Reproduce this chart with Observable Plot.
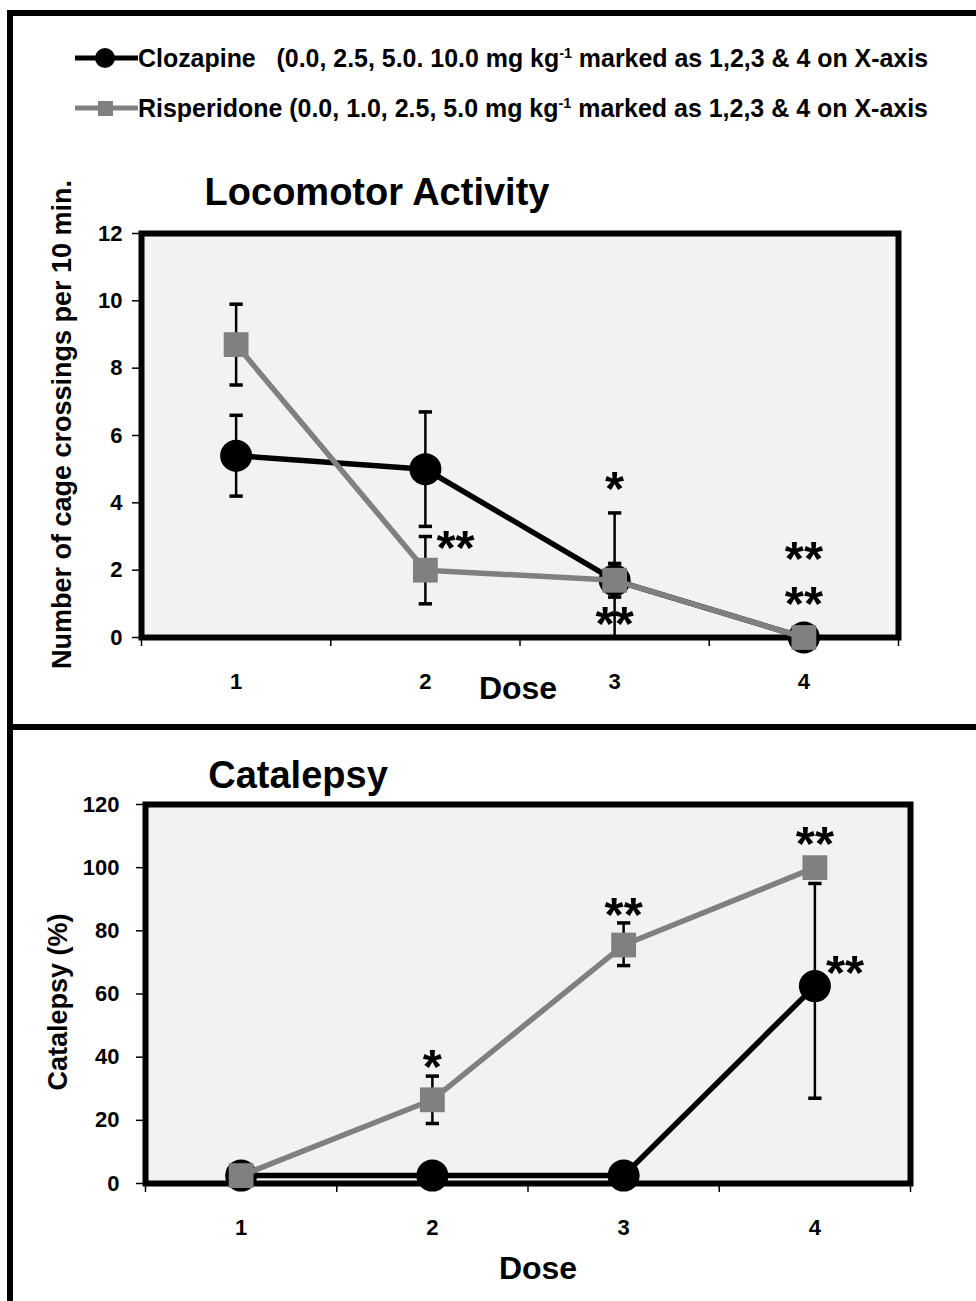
<!DOCTYPE html>
<html><head><meta charset="utf-8">
<script src="https://cdn.jsdelivr.net/npm/d3@7"></script>
<script src="https://cdn.jsdelivr.net/npm/@observablehq/plot@0.6"></script>
<style>
body{margin:0;background:#fff;}
#page{position:relative;width:976px;height:1301px;overflow:hidden;font-family:"Liberation Sans",Arial,sans-serif;}
#border{position:absolute;left:7px;top:10px;width:1100px;height:1400px;border:6px solid #000;box-sizing:border-box;}
#divider{position:absolute;left:7px;top:724px;width:1100px;height:6px;background:#000;}
.legend{position:absolute;left:75px;height:36px;display:flex;align-items:center;font-family:"Liberation Sans",Arial,sans-serif;font-size:26px;font-weight:bold;white-space:nowrap;}
.legend span{display:inline-block;transform-origin:0 50%;}
.legend sup{font-size:15px;vertical-align:9px;line-height:0;}
.title{position:absolute;font-weight:bold;font-size:38px;transform:translate(-50%,-50%);white-space:nowrap;}
.panel{position:absolute;left:0;}
</style></head>
<body>
<div id="page">
  <div id="border"></div>
  <div id="divider"></div>
  <div class="legend" style="top:40px">
    <svg width="63" height="30"><line x1="0" y1="15" x2="63" y2="15" stroke="#000" stroke-width="5"/><circle cx="30" cy="15" r="10" fill="#000"/></svg>
    <span class="lt">Clozapine&nbsp;&nbsp;&nbsp;(0.0, 2.5, 5.0. 10.0 mg kg<sup>-1</sup> marked as 1,2,3 &amp; 4 on X-axis</span>
  </div>
  <div class="legend" style="top:90px">
    <svg width="63" height="30"><line x1="0" y1="15" x2="63" y2="15" stroke="#808080" stroke-width="5"/><rect x="23" y="8" width="15" height="15" fill="#808080"/></svg>
    <span class="lt">Risperidone (0.0, 1.0, 2.5, 5.0 mg kg<sup>-1</sup> marked as 1,2,3 &amp; 4 on X-axis</span>
  </div>
  <div class="title" style="left:377px;top:192px">Locomotor Activity</div>
  <div class="title" style="left:298px;top:775px">Catalepsy</div>
  <div class="panel" id="top" style="top:140px"></div>
  <div class="panel" id="bottom" style="top:730px"></div>
</div>
<script>
// ---- data ----
const doses = [1, 2, 3, 4];
const doseBounds = [0.5, 1.5, 2.5, 3.5, 4.5];
const series = ["Clozapine", "Risperidone"];

// Locomotor activity (cage crossings per 10 min)
const locoClozapine   = [5.4, 5.0, 1.7, 0];
const locoClozapineLo = [4.2, 3.3, 0.0, 0];
const locoClozapineHi = [6.6, 6.7, 3.7, 0];
const locoRisperidone   = [8.7, 2.0, 1.7, 0];
const locoRisperidoneLo = [7.5, 1.0, 1.2, 0];
const locoRisperidoneHi = [9.9, 3.0, 2.2, 0];
const locoTicks = [0, 2, 4, 6, 8, 10, 12];
const locoStars = [
  {dose: 2, y: 2.9, text: "**", side: "right"},
  {dose: 3, y: 4.6, text: "*", side: "center"},
  {dose: 3, y: 0.6, text: "**", side: "center"},
  {dose: 4, y: 1.85, text: "**\n**", side: "center"}
];

// Catalepsy (%)
const cataClozapine   = [2.5, 2.5, 2.5, 62.5];
const cataClozapineLo = [2.5, 2.5, 2.5, 27];
const cataClozapineHi = [2.5, 2.5, 2.5, 95];
const cataRisperidone   = [2.5, 26.5, 75.5, 100];
const cataRisperidoneLo = [2.5, 19, 69, 100];
const cataRisperidoneHi = [2.5, 34, 82.5, 100];
const cataTicks = [0, 20, 40, 60, 80, 100, 120];
const cataStars = [
  {dose: 2, y: 39, text: "*", side: "center"},
  {dose: 3, y: 87, text: "**", side: "center"},
  {dose: 4, y: 109.5, text: "**", side: "center"},
  {dose: 4, y: 69, text: "**", side: "right"}
];

// ---- helpers ----
function rows(vals, lo, hi, name) {
  return doses.map((d, i) => ({series: name, dose: d, value: vals[i], lo: lo[i], hi: hi[i]}));
}
const capSymbol = {draw(ctx, size) { const w = Math.sqrt(size) / 2; ctx.moveTo(-w, 0); ctx.lineTo(w, 0); }};

function panel(opts) {
  const {cloz, risp, yDomain, yTicks, stars, yLabel, margins, height, yLabelDx, yLabelDy, doseDy, doseDx, tickPadding} = opts;
  const all = cloz.concat(risp);
  const bars = all.filter(d => d.hi > d.lo);
  const caps = bars.flatMap(d => [d.lo, d.hi].filter(v => v > 0).map(v => ({dose: d.dose, v})));
  const bold = {fontWeight: "bold", fill: "black", fontFamily: "Liberation Sans, Arial, sans-serif"};
  return Plot.plot({
    width: 976, height,
    marginLeft: margins[0], marginRight: margins[1], marginTop: margins[2], marginBottom: margins[3],
    style: {background: "transparent", overflow: "visible"},
    x: {type: "linear", domain: [0.5, 4.5]},
    y: {domain: yDomain},
    marks: [
      Plot.frame({fill: "#f2f2f2"}),
      Plot.axisY({ticks: yTicks, tickSize: 9, tickPadding, fontSize: 22, ...bold, stroke: "black", strokeWidth: 1.5, label: null}),
      Plot.axisX({ticks: doseBounds, tickSize: 9, tickFormat: () => "", stroke: "black", strokeWidth: 1.5, label: null}),
      Plot.axisX({ticks: doses, tickSize: 0, tickPadding: 36, tickFormat: d => String(d), fontSize: 22, ...bold, label: null}),
      Plot.ruleX(bars, {x: "dose", y1: "lo", y2: "hi", stroke: "black", strokeWidth: 2.5}),
      Plot.dot(caps, {x: "dose", y: "v", symbol: capSymbol, r: 7.5, fill: "none", stroke: "black", strokeWidth: 3.5}),
      Plot.frame({stroke: "black", strokeWidth: 6}),
      Plot.line(cloz, {x: "dose", y: "value", stroke: "black", strokeWidth: 5.5}),
      Plot.dot(cloz, {x: "dose", y: "value", r: 16, fill: "black"}),
      Plot.line(risp, {x: "dose", y: "value", stroke: "#808080", strokeWidth: 5.5}),
      Plot.dot(risp, {x: "dose", y: "value", symbol: "square", r: 14, fill: "#808080"}),
      Plot.text(stars.filter(d => d.side === "center"), {x: "dose", y: "y", text: "text", fontSize: 49, lineHeight: 0.92, ...bold, lineAnchor: "middle", dy: 8}),
      Plot.text(stars.filter(d => d.side === "right"), {x: "dose", y: "y", text: "text", fontSize: 49, ...bold, lineAnchor: "middle", textAnchor: "start", dx: 11, dy: 8}),
      Plot.text([yLabel], {frameAnchor: "left", textAnchor: "middle", rotate: -90, dx: yLabelDx, dy: yLabelDy, fontSize: 27, ...bold, lineAnchor: "middle"}),
      Plot.text(["Dose"], {frameAnchor: "bottom", textAnchor: "middle", dx: doseDx, dy: doseDy, fontSize: 32, ...bold, lineAnchor: "middle"})
    ]
  });
}

document.getElementById("top").append(panel({
  cloz: rows(locoClozapine, locoClozapineLo, locoClozapineHi, series[0]),
  risp: rows(locoRisperidone, locoRisperidoneLo, locoRisperidoneHi, series[1]),
  yDomain: [0, 12], yTicks: locoTicks, stars: locoStars,
  yLabel: "Number of cage crossings per 10 min.",
  margins: [141, 78, 93, 83], height: 580,
  yLabelDx: -79, yLabelDy: -11, doseDy: 51, doseDx: -2, tickPadding: 10
}));

document.getElementById("bottom").append(panel({
  cloz: rows(cataClozapine, cataClozapineLo, cataClozapineHi, series[0]),
  risp: rows(cataRisperidone, cataRisperidoneLo, cataRisperidoneHi, series[1]),
  yDomain: [0, 120], yTicks: cataTicks, stars: cataStars,
  yLabel: "Catalepsy (%)",
  margins: [145, 66, 74, 118], height: 571,
  yLabelDx: -87, yLabelDy: 8, doseDy: 85, doseDx: 10, tickPadding: 17
}));

// condense legend text to the reference's narrow width
document.querySelectorAll(".lt").forEach(el => {
  const w = el.getBoundingClientRect().width;
  el.style.transform = `scaleX(${790 / w})`;
});
</script>
</body></html>
